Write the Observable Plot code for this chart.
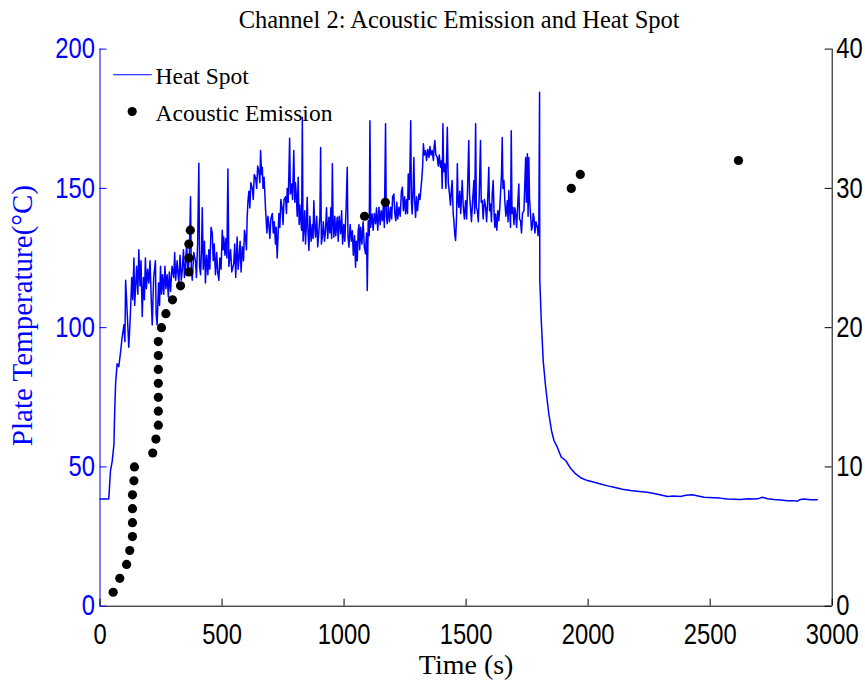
<!DOCTYPE html>
<html>
<head>
<meta charset="utf-8">
<script src="https://cdn.jsdelivr.net/npm/d3@7"></script>
<script src="https://cdn.jsdelivr.net/npm/@observablehq/plot@0.6"></script>
<style>
  html, body { margin: 0; padding: 0; background: #fff; }
  #chart svg { display: block; }
</style>
</head>
<body>
<div id="chart"></div>
<script>
// ---------- data ----------
const title = "Channel 2: Acoustic Emission and Heat Spot";
const xLabel = "Time (s)";
const yLabel = "Plate Temperature(°C)";
const legendLabels = ["Heat Spot", "Acoustic Emission"];

const xTicks = [0, 500, 1000, 1500, 2000, 2500, 3000];
const leftTicks = [0, 50, 100, 150, 200];
const rightTicks = [0, 10, 20, 30, 40];

// Acoustic emission: time (s) and cumulative count (right axis)
const aeTime = [54, 81, 109, 122, 133, 133, 133, 133, 139, 141, 216, 229, 239, 239, 239, 239, 239, 239, 239, 252, 270, 297, 330, 364, 364, 364, 370, 1084, 1169, 1931, 1968, 2616];
const aeCount = [1, 2, 3, 4, 5, 6, 7, 8, 9, 10, 11, 12, 13, 14, 15, 16, 17, 18, 19, 20, 21, 22, 23, 24, 25, 26, 27, 28, 29, 30, 31, 32];

// Heat spot temperature: [time (s), temperature (°C)]
const heatSpot = [
[0,38.5],[32,38.5],[36,38.5],[43,48.7],[50,52],[57,58],[60,69],[64,80],[70,87],[77,86],[84,91],[90,96],[98,101],[102,95],[105,117],[110,108],[118,93],[122,100],[125,106],[130,118],[134,110],[139,125],[142,108],[145,113],[150,122],[155,112],[159,128],[164,115],[168,124],[173,104],[178,118],[182,110],[186,125],[190,114],[195,121],[200,116],[205,124],[210,110],[214,101],[220,118],[227,124],[230,105],[234,101],[240,116],[244,108],[248,122],[252,112],[256,119],[261,112],[266,122],[270,114],[275,119],[280,111],[284,120],[289,113],[295,122],[302,118],[306,127],[310,117],[316,124],[320,119],[323,116],[328,126],[333,117],[337,120.5],[342,128],[346,118],[350,122],[355,130],[360,119],[366,126],[371,147],[374,121],[378,117],[384,127],[391,124],[395,118],[400,130],[405,159],[408,122],[412,119],[416,128],[419,143],[423,121],[428,131],[432,116],[437,126],[442,119],[446,128],[450,121],[455,136],[460,134],[464,124],[468,130],[473,119],[478,127],[482,120],[487,117],[491,125],[496,121],[501,135],[504,128],[507,132.5],[512,126],[516,132],[520,125],[524,157],[528,122],[535,128],
[540,120],[548,123],[552,130],[556,118],[562,132.5],[566,121],[569,124],[574,131],[578,120],[583,129],[588,124],[592,135],[596,132.5],[600,128],[603,139.6],[606,145],[610,149],[614,143],[618,152],[624,150],[628,146],[632,155],[637,154],[642,150],[646,158],[651,156],[655,152],[658,163.6],[662,155],[665,157.6],[668,150],[672,154],[675,149],[678,143],[681,138.4],[684,134],[688,140],[692,137],[696,132],[700,139],[706,141],[710,134],[714,138],[719,130],[722,136],[726,125],[730,134],[733,141],[737,136],[741,146],[746,143],[750,137],[754,146],[760,147],[764,141],[767,150],[771,145],[774,156],[777,168],[780,148],[785,151.6],[789,146],[794,163.6],[798,145],[801,152],[804,148],[808,140],[812,154],[816,137],[819,144],[822,139.6],[826,135],[829,175.5],[832,131],[835,134.8],[839,142],[842,130],[846,138],[849,146.8],[852,135],[856,127.7],[860,140],[865,131],[870,137],[873,132],[876,145.6],[880,136],[883,132.5],[888,140],[892,129],[897,134.8],[901,140],[904,164.7],[907,130],[911,132.5],[915,138],[920,131],[924,134.8],[928,143],[933,132],[938,139.6],[942,134],[946,143],[949,132],[952,158.8],[955,138],[958,132.5],[962,140],[966,133],[972,139.6],[976,131],[980,140],[986,133.7],[990,142],[994,130],[999,137],[1003,131],[1008,142],[1013,157.6],[1016,133],[1020,128.9],[1025,137],[1030,131],[1034,134.8],[1038,126],[1043,133],[1047,121.7],[1050,131],[1054,124],[1058,135],[1061,137],
[1064,128],[1068,136],[1073,130],[1078,138],[1083,129],[1088,126.5],[1092,134],[1095,113.3],[1099,138.4],[1103,133],[1106,174.3],[1109,136],[1115,140.8],[1119,135],[1124,141],[1129,137.3],[1133,143],[1138,135],[1143,143.2],[1148,137],[1152,142],[1157,138.4],[1161,144],[1165,136],[1170,173.2],[1173,140],[1177,137.3],[1181,144],[1186,138],[1191,143.2],[1195,139],[1199,147],[1204,148],[1208,141],[1212,138.4],[1216,145],[1220,139],[1225,143.2],[1230,140],[1235,149],[1239,150.4],[1243,142],[1248,147],[1252,140.8],[1256,146],[1260,141],[1263,155.2],[1267,146],[1270,158],[1273,174.3],[1276,145],[1279,140.8],[1283,150],[1286,161.1],[1289,146],[1293,139.6],[1297,147],[1301,142],[1307,148],[1311,146],[1315,150],[1318,152.8],[1322,158],[1325,166],[1329,162],[1334,163.6],[1338,160],[1343,164],[1348,161.1],[1352,165],[1356,162],[1361,163.6],[1366,160],[1369,165],[1372,167.2],[1376,162],[1382,161.1],[1386,158],[1390,162],[1395,157.6],[1399,160],[1402,150],[1405,173.2],[1408,156],[1413,158.8],[1417,150],[1420,160],[1423,171.9],[1427,152],[1432,148],[1436,144],[1440,150],[1443,152.8],[1447,141],[1450,138.4],[1454,133],[1457,131.3],[1461,140],[1464,158.8],[1467,146],[1470,143.2],[1474,149],[1478,141],[1484,152.8],[1488,144],[1493,139],[1498,145.6],[1502,139],[1506,150],[1511,167.2],[1514,148],[1518,143.2],[1522,138],[1527,146],[1532,152.8],
[1535,141],[1539,173.2],[1542,143],[1546,142],[1550,138],[1554,148],[1559,167.2],[1562,145],[1566,145.6],[1570,139],[1575,146],[1580,143.2],[1584,138],[1588,145],[1593,157.6],[1596,142],[1600,144.4],[1604,138],[1607,148],[1611,152.8],[1615,140],[1618,136],[1621,140.8],[1626,135],[1630,142],[1634,138.4],[1638,143],[1642,150],[1645,155],[1648,168.3],[1651,150],[1655,152.8],[1659,145],[1663,140],[1669,145.6],[1672,138],[1675,149.2],[1679,142],[1682,136],[1685,170.7],[1688,141],[1692,143.2],[1696,137],[1700,143],[1703,140.8],[1707,136],[1712,145],[1716,151.6],[1719,139],[1723,138.4],[1727,134],[1731,141],[1737,142],[1740,150],[1744,161.1],[1747,145],[1751,162.4],[1754,140],[1757,161.1],[1760,146],[1764,140.8],[1768,135],[1771,136],[1775,141],[1778,139.6],[1782,134],[1786,138],[1792,136],[1795,133],[1798,137.3],[1801,184.5],[1802,117],[1808,102.5],[1816,88],[1826,78.6],[1839,69],[1850,63],[1860,59.5],[1874,57],[1890,53.5],[1908,52.3],[1928,49.5],[1949,47.5],[1972,46],[1997,45.1],[2025,44.5],[2051,43.9],[2080,43.2],[2106,42.7],[2140,42],[2174,41.5],[2210,41.2],[2243,40.9],[2285,40.2],[2325,39.4],[2350,39.6],[2379,39.4],[2400,39.8],[2427,40],[2450,39.6],[2475,39.1],[2515,38.9],[2540,38.8],[2570,38.5],[2600,38.4],[2625,38.3],[2655,38.6],[2680,38.5],[2700,38.7],[2714,39.1],[2735,38.6],[2761,38.3],[2790,38.1],[2816,37.9],[2840,37.9],[2857,37.7],[2870,38.3],[2884,38.5],[2910,38.2],[2939,38.2]
];

// ---------- derived tables ----------
const heat = heatSpot.map(([t, v]) => ({t, v}));
const ae = aeTime.map((t, i) => ({t, n: aeCount[i]}));
const rightMax = 40, leftMax = 200, k = leftMax / rightMax;

// ---------- layout ----------
const W = 865, H = 682;
const mL = 99.5, mR = 33.3, mT = 48.6, mB = 76.3;
const fw = W - mL - mR, fh = H - mT - mB;
const BLUE = "#0000ff";
const sans = "'Liberation Sans', Arial, Helvetica, sans-serif";
const serif = "'Liberation Serif', 'Times New Roman', serif";
const tickLen = 7;
const tickFont = 29;

const chart = Plot.plot({
  width: W, height: H,
  marginLeft: mL, marginRight: mR, marginTop: mT, marginBottom: mB,
  style: {background: "white", overflow: "visible"},
  x: {domain: [0, 3000], axis: null},
  y: {domain: [0, leftMax], axis: null},
  marks: [
    // data
    Plot.line(heat, {x: "t", y: "v", stroke: BLUE, strokeWidth: 1.5}),
    Plot.dot(ae, {x: "t", y: d => d.n * k, r: 4.6, fill: "black", stroke: "none"}),
    // axis lines
    Plot.ruleY([0], {stroke: "black", strokeWidth: 1}),
    Plot.ruleX([3000], {stroke: "black", strokeWidth: 1}),
    Plot.ruleX([0], {stroke: BLUE, strokeWidth: 1}),
    // ticks (pointing inward)
    Plot.tickY(leftTicks, {y: d => d, stroke: BLUE, insetRight: fw - tickLen}),
    Plot.tickY(rightTicks, {y: d => d * k, stroke: "black", insetLeft: fw - tickLen}),
    Plot.tickX(xTicks, {x: d => d, stroke: "black", insetTop: fh - tickLen}),
    // tick labels
    Plot.text(leftTicks, {y: d => d, text: d => String(d), frameAnchor: "left", dx: -5, textAnchor: "end", lineAnchor: "middle", fill: BLUE, fontSize: tickFont, fontFamily: sans}),
    Plot.text(rightTicks, {y: d => d * k, text: d => String(d), frameAnchor: "right", dx: 4, textAnchor: "start", lineAnchor: "middle", fill: "black", fontSize: tickFont, fontFamily: sans}),
    Plot.text(xTicks, {x: d => d, text: d => String(d), frameAnchor: "bottom", dy: 29, textAnchor: "middle", lineAnchor: "middle", fill: "black", fontSize: tickFont, fontFamily: sans}),
    // axis titles and chart title
    Plot.text([xLabel], {frameAnchor: "bottom", dy: 59, textAnchor: "middle", lineAnchor: "middle", fill: "black", fontSize: 28, fontFamily: serif}),
    Plot.text([yLabel], {frameAnchor: "left", dx: -77, dy: -12, rotate: -90, textAnchor: "middle", lineAnchor: "middle", fill: BLUE, fontSize: 29, fontFamily: serif}),
    Plot.text([title], {frameAnchor: "top", dy: -29, dx: -7, textAnchor: "middle", lineAnchor: "middle", fill: "black", fontSize: 24.5, fontFamily: serif}),
    // legend
    Plot.ruleY([leftMax], {dy: 25.7, insetLeft: 13.8, insetRight: fw - 52.2, stroke: BLUE, strokeWidth: 1.1}),
    Plot.text([legendLabels[0]], {frameAnchor: "top-left", dx: 55.5, dy: 27, textAnchor: "start", lineAnchor: "middle", fill: "black", fontSize: 23.5, fontFamily: serif}),
    Plot.dot([0], {frameAnchor: "top-left", dx: 32.2, dy: 62.4, r: 4.6, fill: "black", stroke: "none"}),
    Plot.text([legendLabels[1]], {frameAnchor: "top-left", dx: 55.5, dy: 64, textAnchor: "start", lineAnchor: "middle", fill: "black", fontSize: 23.5, fontFamily: serif})
  ]
});

// Condense tick-label glyphs horizontally (reference uses tall, narrow digits)
const tickLabelText = new Set([...xTicks, ...leftTicks, ...rightTicks].map(String));
chart.querySelectorAll("text").forEach(t => {
  const g = t.parentNode;
  const fs = (g && g.getAttribute && g.getAttribute("font-size")) || t.getAttribute("font-size");
  if (+fs !== tickFont || !tickLabelText.has(t.textContent.trim())) return;
  const tr = t.getAttribute("transform");
  if (tr) {
    t.setAttribute("transform", tr + " scale(0.82,1)");
  } else {
    const x = +t.getAttribute("x") || 0, y = +t.getAttribute("y") || 0;
    t.removeAttribute("x"); t.removeAttribute("y");
    t.setAttribute("transform", `translate(${x},${y}) scale(0.82,1)`);
  }
});
document.getElementById("chart").appendChild(chart);
</script>
</body>
</html>
